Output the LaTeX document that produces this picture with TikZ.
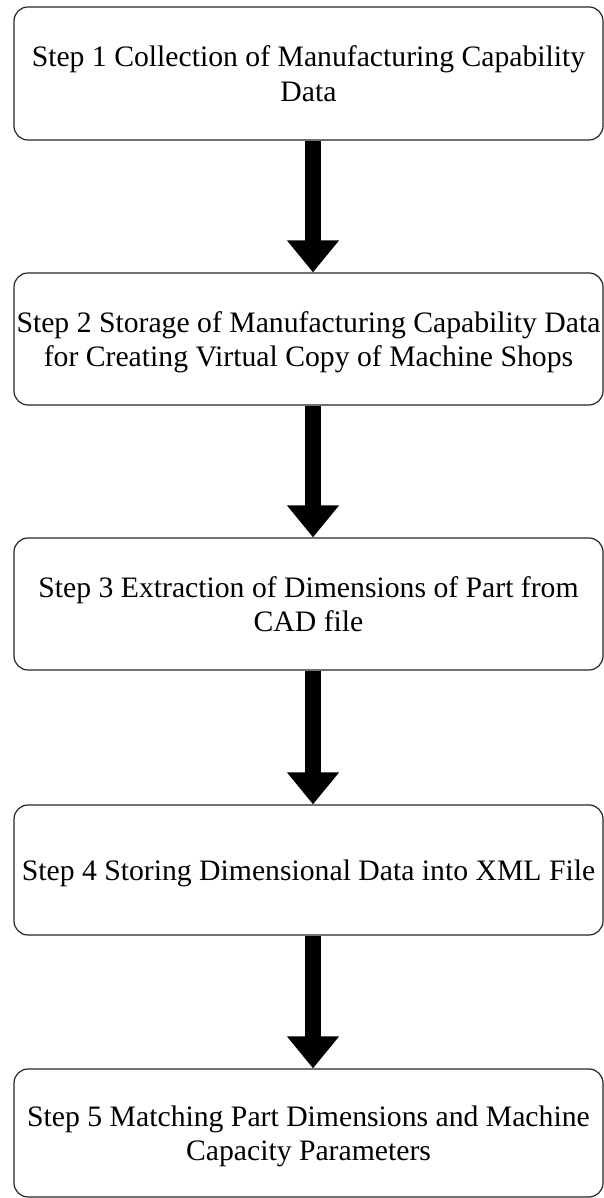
\documentclass[tikz,border=0pt]{standalone}
\usepackage{fontspec}
\setmainfont{Liberation Serif}
\usetikzlibrary{arrows.meta}

\tikzset{
  stepbox/.style={draw=black!85, line width=1.2pt, rounded corners=14pt,
    minimum width=589pt, inner sep=0pt, align=center, text depth=0pt,
    font=\fontsize{29.7}{34.5}\selectfont},
  bigarrow/.style={line width=16pt,
    -{Triangle[width=50pt,length=32pt]}}
}

\begin{document}
\begin{tikzpicture}[x=1pt,y=1pt]
  \clip (0,0) rectangle (604,1198);
  \fill[white] (0,0) rectangle (604,1198);

  % the five process steps, top to bottom
  \node[stepbox, minimum height=133pt] (b1) at (308.5,1124.5)
    {Step 1 Collection of Manufacturing Capability\\Data};
  \node[stepbox, minimum height=132pt] (b2) at (308.5,859)
    {Step 2 Storage of Manufacturing Capability Data\\for Creating Virtual Copy of Machine Shops};
  \node[stepbox, minimum height=132pt] (b3) at (308.5,594)
    {Step 3 Extraction of Dimensions of Part from\\CAD file};
  \node[stepbox, minimum height=130pt] (b4) at (308.5,328)
    {Step 4 Storing Dimensional Data into XML File};
  \node[stepbox, minimum height=128pt] (b5) at (308.5,65)
    {Step 5 Matching Part Dimensions and Machine\\Capacity Parameters};

  % block arrows between consecutive steps
  \draw[bigarrow] ([xshift=4.5pt]b1.south) -- ([xshift=4.5pt]b2.north);
  \draw[bigarrow] ([xshift=4.5pt]b2.south) -- ([xshift=4.5pt]b3.north);
  \draw[bigarrow] ([xshift=4.5pt]b3.south) -- ([xshift=4.5pt]b4.north);
  \draw[bigarrow] ([xshift=4.5pt]b4.south) -- ([xshift=4.5pt]b5.north);
\end{tikzpicture}
\end{document}
